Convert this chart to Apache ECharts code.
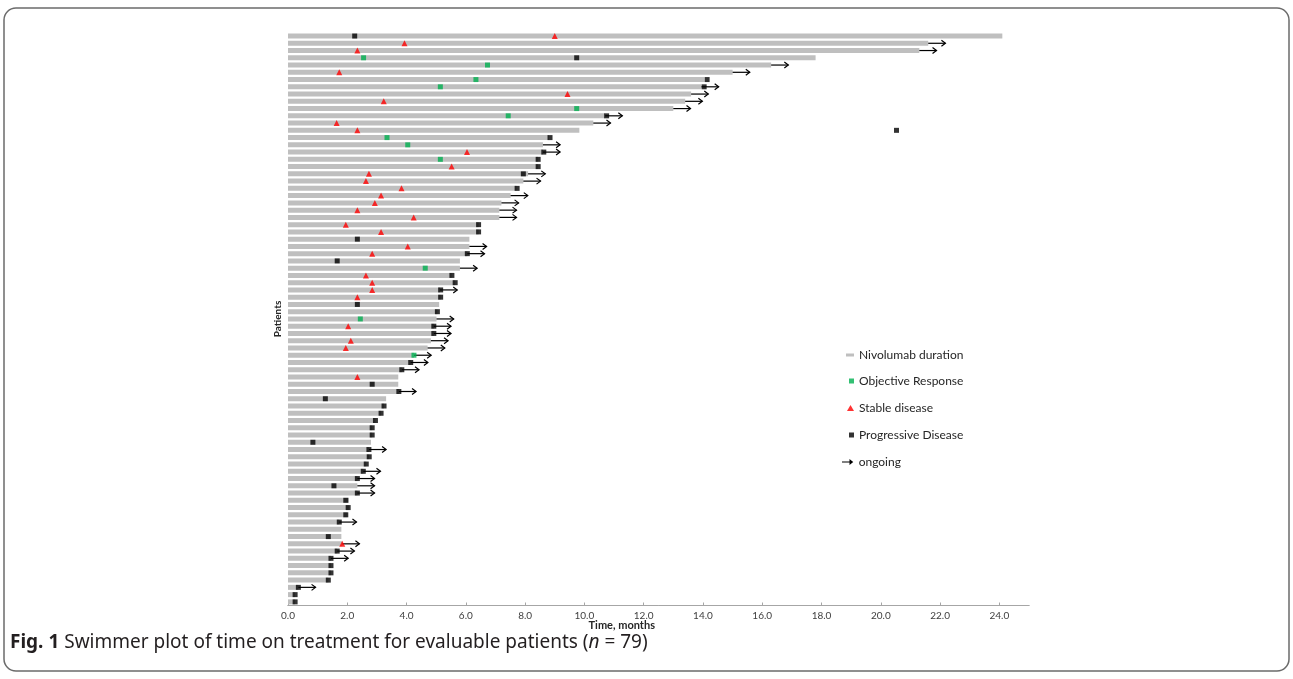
<!DOCTYPE html>
<html>
<head>
<meta charset="utf-8">
<script src="https://cdn.jsdelivr.net/npm/echarts@6/dist/echarts.min.js"></script>
<style>
  html, body { margin: 0; padding: 0; background: #fff; }
  #swimmer { width: 1293px; height: 679px; }
</style>
</head>
<body>
<div id="swimmer"></div>
<script>
// time on treatment (months), one value per patient, top row first
var months = [
  24.1, 21.6, 21.3, 17.8, 16.3, 15.0, 14.04, 13.95, 13.6, 13.4,
  13.0, 10.7, 10.3, 9.83, 8.8, 8.6, 8.6, 8.44, 8.44, 8.1,
  7.94, 7.71, 7.51, 7.2, 7.13, 7.13, 6.43, 6.43, 6.12, 6.12,
  6.05, 5.8, 5.8, 5.52, 5.64, 5.13, 5.15, 5.1, 5.04, 5.01,
  4.92, 4.92, 4.82, 4.71, 4.25, 4.14, 3.84, 3.72, 3.72, 3.74,
  3.31, 3.24, 3.14, 2.95, 2.84, 2.84, 2.8, 2.73, 2.74, 2.64,
  2.54, 2.34, 2.34, 2.34, 2.05, 2.05, 2.0, 1.73, 1.8, 1.8,
  1.83, 1.66, 1.45, 1.45, 1.45, 1.36, 0.35, 0.24, 0.24
];
// rows still on treatment
var ongoing = [2, 3, 5, 6, 8, 9, 10, 11, 12, 13, 16, 17, 20, 21, 23, 24, 25, 26, 30, 31,
  33, 36, 40, 41, 42, 43, 44, 45, 46, 47, 50, 58, 61, 62, 63, 64, 68, 71, 72, 73, 77];
// [row, month]
var objectiveResponse = [[4, 2.55], [5, 6.73], [7, 6.34], [8, 5.14], [11, 9.74], [12, 7.43],
  [15, 3.34], [16, 4.04], [18, 5.14], [33, 4.63], [40, 2.44], [45, 4.25]];
var stableDisease = [[1, 9.0], [2, 3.93], [3, 2.34], [6, 1.73], [9, 9.43], [10, 3.23], [13, 1.64],
  [14, 2.34], [17, 6.04], [19, 5.52], [20, 2.73], [21, 2.63], [22, 3.83], [23, 3.14], [24, 2.93],
  [25, 2.34], [26, 4.24], [27, 1.95], [28, 3.14], [30, 4.04], [31, 2.84], [34, 2.63], [35, 2.84],
  [36, 2.84], [37, 2.34], [41, 2.03], [43, 2.12], [44, 1.95], [48, 2.34], [71, 1.83]];
var progressiveDisease = [[1, 2.25], [4, 9.74], [7, 14.14], [8, 14.04], [12, 10.75], [14, 20.53],
  [15, 8.84], [17, 8.63], [18, 8.44], [19, 8.44], [20, 7.94], [22, 7.73], [27, 6.43], [28, 6.43],
  [29, 2.34], [31, 6.05], [32, 1.66], [34, 5.53], [35, 5.64], [36, 5.15], [37, 5.15], [38, 2.34],
  [39, 5.04], [41, 4.92], [42, 4.92], [46, 4.14], [47, 3.84], [49, 2.84], [50, 3.74], [51, 1.26],
  [52, 3.24], [53, 3.14], [54, 2.95], [55, 2.84], [56, 2.84], [57, 0.84], [58, 2.73], [59, 2.74],
  [60, 2.64], [61, 2.54], [62, 2.34], [63, 1.55], [64, 2.34], [65, 1.95], [66, 2.03], [67, 1.95],
  [68, 1.73], [70, 1.36], [72, 1.66], [73, 1.45], [74, 1.45], [75, 1.45], [76, 1.36], [77, 0.35],
  [78, 0.24], [79, 0.24]];
var xTicks = [0, 2, 4, 6, 8, 10, 12, 14, 16, 18, 20, 22, 24];

var patients = months.map(function (m, i) { return 'P' + (i + 1); });
var ARROW_LEN = 0.58; // months
var AXIS_GREY = '#a6a6a6';
var TEXT = '#262626';

function toPoints(list) {
  return list.map(function (p) { return [p[1], p[0] - 1]; });
}

var chart = echarts.init(document.getElementById('swimmer'));

var legendBase = {
  selectedMode: false,
  padding: 0,
  orient: 'vertical',
  textStyle: { fontSize: 12, color: TEXT, fontFamily: 'Lato' }
};
function legendAt(item, left, yc, w, h) {
  return Object.assign({}, legendBase, {
    data: [item], left: left, top: yc - 7, itemWidth: w, itemHeight: h
  });
}

var option = {
  animation: false,
  textStyle: { fontFamily: 'Lato' },
  grid: [
    { left: 288, right: 264, top: 32.4, bottom: 73.5 },
    { left: 288, right: 264, top: 27, bottom: 73.5 }
  ],
  xAxis: [{
    gridIndex: 0,
    type: 'value',
    min: 0, max: 25, interval: 2,
    axisLine: { show: true, lineStyle: { color: AXIS_GREY } },
    axisTick: { show: false },
    splitLine: { show: false },
    axisLabel: {
      customValues: xTicks,
      formatter: function (v) { return v.toFixed(1); },
      fontSize: 10, color: '#404040', margin: 5
    }
  }, {
    gridIndex: 1,
    type: 'value',
    position: 'top',
    min: 0, max: 25, interval: 2,
    axisLine: { show: true, lineStyle: { color: AXIS_GREY } },
    axisTick: { show: true, length: 3, customValues: xTicks, lineStyle: { color: AXIS_GREY } },
    axisLabel: { show: false },
    splitLine: { show: false }
  }],
  yAxis: [{
    gridIndex: 0,
    type: 'category',
    data: patients,
    inverse: true,
    axisLine: { show: false },
    axisTick: { show: false },
    axisLabel: { show: false },
    name: 'Patients',
    nameLocation: 'middle',
    nameRotate: 90,
    nameGap: 5,
    nameTextStyle: { fontWeight: 'bold', fontSize: 10, color: TEXT }
  }, {
    gridIndex: 1,
    type: 'value',
    show: false
  }],
  legend: [
    legendAt({ name: 'Nivolumab duration', icon: 'rect' }, 846, 356, 8, 3),
    legendAt({ name: 'Objective Response' }, 849, 382, 5, 5),
    legendAt({ name: 'Stable disease' }, 847, 409, 7, 6),
    legendAt({ name: 'Progressive Disease' }, 849, 436, 5, 5),
    legendAt({ name: 'ongoing', icon: 'path://M0,3.4L8,3.4L8,0.8L12,4L8,7.2L8,4.6L0,4.6Z' }, 842, 463, 12, 6)
  ],
  graphic: [{
    type: 'rect',
    shape: { x: 4, y: 8, width: 1285, height: 663, r: 12 },
    style: { fill: null, stroke: '#6b6b6b', lineWidth: 1.5 },
    z: -10
  }, {
    type: 'text',
    right: 1293 - 655,
    top: 620,
    style: { text: 'Time, months', font: 'bold 11px Lato', fill: TEXT }
  }, {
    type: 'text',
    left: 10,
    top: 632,
    style: {
      text: '{b|Fig. 1} Swimmer plot of time on treatment for evaluable patients ({i|n} = 79)',
      font: '19px "Noto Sans"',
      fill: '#231f20',
      rich: {
        b: { fontWeight: 'bold', fontSize: 19, fontFamily: 'Noto Sans', lineHeight: 22 },
        i: { fontStyle: 'italic', fontSize: 19, fontFamily: 'Noto Sans', lineHeight: 22 }
      },
      lineHeight: 22
    }
  }],
  series: [{
    name: 'Nivolumab duration',
    type: 'bar',
    xAxisIndex: 0, yAxisIndex: 0,
    data: months,
    barWidth: 5,
    itemStyle: { color: '#bfbfbf' },
    silent: true
  }, {
    name: 'ongoing',
    type: 'custom',
    xAxisIndex: 0, yAxisIndex: 0,
    data: ongoing.map(function (r) { return [months[r - 1], r - 1]; }),
    encode: { x: 0, y: 1 },
    itemStyle: { color: '#000' },
    z: 3,
    silent: true,
    renderItem: function (params, api) {
      var s = api.coord([api.value(0), api.value(1)]);
      var e = api.coord([api.value(0) + ARROW_LEN, api.value(1)]);
      return {
        type: 'group',
        children: [{
          type: 'line',
          shape: { x1: s[0], y1: s[1], x2: e[0], y2: e[1] },
          style: { stroke: '#000', lineWidth: 1.2 }
        }, {
          type: 'polyline',
          shape: { points: [[e[0] - 4, e[1] - 3], [e[0], e[1]], [e[0] - 4, e[1] + 3]] },
          style: { stroke: '#000', lineWidth: 1.2, fill: null }
        }]
      };
    }
  }, {
    name: 'Objective Response',
    type: 'scatter',
    xAxisIndex: 0, yAxisIndex: 0,
    symbol: 'rect',
    symbolSize: 5,
    itemStyle: { color: '#00b050' },
    data: toPoints(objectiveResponse),
    z: 4
  }, {
    name: 'Stable disease',
    type: 'scatter',
    xAxisIndex: 0, yAxisIndex: 0,
    symbol: 'triangle',
    symbolSize: [6, 6],
    itemStyle: { color: '#ff0000' },
    data: toPoints(stableDisease),
    z: 4
  }, {
    name: 'Progressive Disease',
    type: 'scatter',
    xAxisIndex: 0, yAxisIndex: 0,
    symbol: 'rect',
    symbolSize: 5,
    itemStyle: { color: '#000' },
    data: toPoints(progressiveDisease),
    z: 4
  }]
};
chart.setOption(option);
</script>
</body>
</html>
